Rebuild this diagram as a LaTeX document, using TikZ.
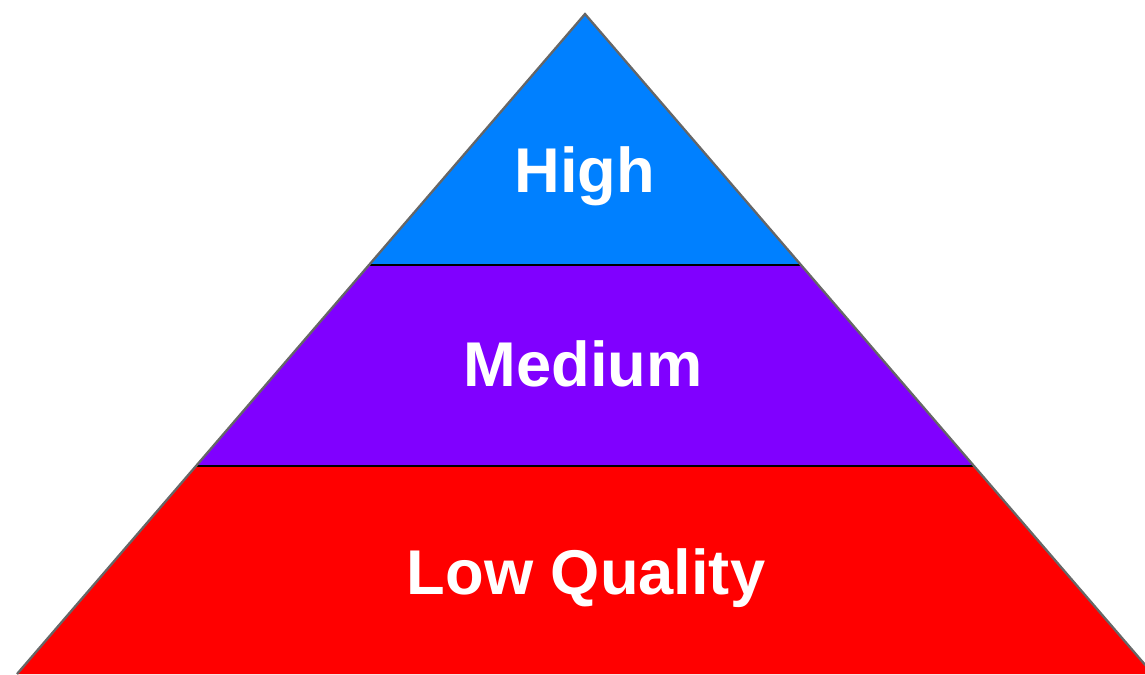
\documentclass[tikz,border=0pt]{standalone}
\usepackage{fontspec}
\setmainfont{Liberation Sans}
\usepackage{tikz}
\usetikzlibrary{positioning,calc}

\definecolor{highblue}{HTML}{0080FF}
\definecolor{medpurple}{HTML}{8000FF}
\definecolor{lowred}{HTML}{FF0000}

\tikzset{
    layertext/.style={text=white, font=\fontsize{36}{40}\selectfont\bfseries, anchor=base},
    divider/.style={draw=black, line width=0.9pt},
    outline/.style={draw=black!60, line width=1.3pt}
}

\begin{document}
\begin{tikzpicture}[x=0.02cm, y=-0.02cm]
    \useasboundingbox (0,0) rectangle (1145,674);
    \clip (0,0) rectangle (1145,674);

    % Definición de los vértices
    \coordinate (top) at (585,14);
    \coordinate (bl) at (17,674);
    \coordinate (br) at (1153,674);
    \coordinate (l1) at ($(top)!0.3803!(bl)$);
    \coordinate (r1) at ($(top)!0.3803!(br)$);
    \coordinate (l2) at ($(top)!0.6848!(bl)$);
    \coordinate (r2) at ($(top)!0.6848!(br)$);

    % Definición de las capas
    \fill[highblue] (top) -- (l1) -- (r1) -- cycle;
    \fill[medpurple] (l1) -- (l2) -- (r2) -- (r1) -- cycle;
    \fill[lowred] (l2) -- (bl) -- (br) -- (r2) -- cycle;

    \draw[divider] (l1) -- (r1);
    \draw[divider] (l2) -- (r2);
    \draw[outline] (bl) -- (top) -- (br);

    % Textos
    \node[layertext] (high) at (585,192) {High};
    \node[layertext] (medium) at (583,386) {Medium};
    \node[layertext] (low) at (586,594) {Low Quality};
\end{tikzpicture}
\end{document}
